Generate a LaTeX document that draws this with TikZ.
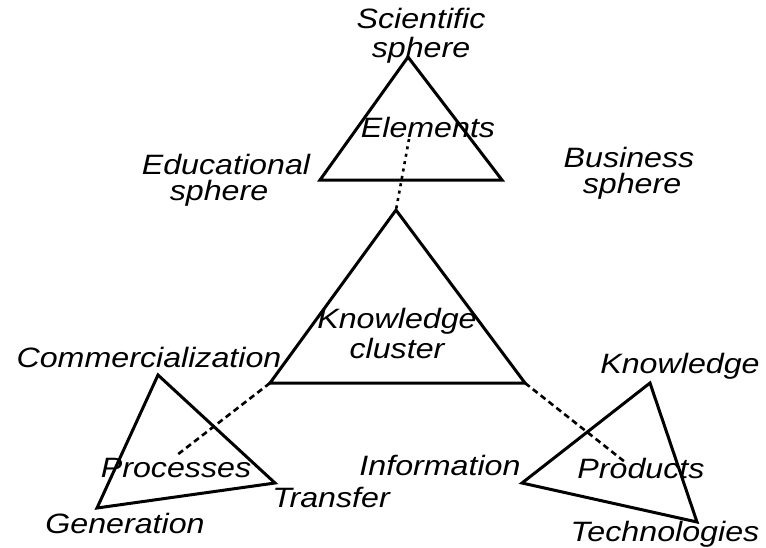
\documentclass[tikz,border=0pt]{standalone}
\usepackage{fontspec}
\setmainfont[FakeStretch=1.15]{Liberation Sans}
\begin{document}
\begin{tikzpicture}[x=1pt,y=-1pt,
  lbl/.style={font=\fontsize{28}{29}\selectfont\itshape, inner sep=0pt, anchor=base},
  tri/.style={line width=3pt, line join=miter},
  dotline/.style={line width=2.6pt, dash pattern=on 3pt off 4.5pt},
  dashline/.style={line width=2.6pt, dash pattern=on 6pt off 4pt}]
\useasboundingbox (0,0) rectangle (766,547);
% triangle vertices
\coordinate (e1) at (408,57);
\coordinate (e2) at (320,180);
\coordinate (e3) at (502,180);
\coordinate (k1) at (396,210);
\coordinate (k2) at (270,383);
\coordinate (k3) at (525,383);
\coordinate (p1) at (158,375);
\coordinate (p2) at (97,508);
\coordinate (p3) at (275,483);
\coordinate (r1) at (650,383);
\coordinate (r2) at (522,483);
\coordinate (r3) at (697,522);
\coordinate (eend) at (409,139);
\coordinate (pend) at (177,455);
\coordinate (rend) at (625,462);
% triangles
\draw[tri] (e1) -- (e2) -- (e3) -- cycle;
\draw[tri] (k1) -- (k2) -- (k3) -- cycle;
\draw[tri] (p1) -- (p2) -- (p3) -- cycle;
\draw[tri] (r1) -- (r2) -- (r3) -- cycle;
% connectors
\draw[dotline] (eend) -- (k1);
\draw[dashline] (k2) -- (pend);
\draw[dashline] (k3) -- (rend);
% labels
\node[lbl] (sci1) at (421,28) {Scientific};
\node[lbl] (sci2) at (421,57) {sphere};
\node[lbl] (edu1) at (226,174) {Educational};
\node[lbl] (edu2) at (219,200) {sphere};
\node[lbl] (bus1) at (629,167) {Business};
\node[lbl] (bus2) at (632,193) {sphere};
\node[lbl] (elem) at (428,137) {Elements};
\node[lbl] (kc1) at (397,328) {Knowledge};
\node[lbl] (kc2) at (397,358) {cluster};
\node[lbl] (com) at (149,367) {Commercialization};
\node[lbl] (proc) at (176,477) {Processes};
\node[lbl] (gen) at (125,533) {Generation};
\node[lbl] (tra) at (331,507) {Transfer};
\node[lbl] (inf) at (440,475) {Information};
\node[lbl] (prod) at (641,478) {Products};
\node[lbl] (know) at (680,373) {Knowledge};
\node[lbl] (tech) at (665,541) {Technologies};
\end{tikzpicture}
\end{document}
